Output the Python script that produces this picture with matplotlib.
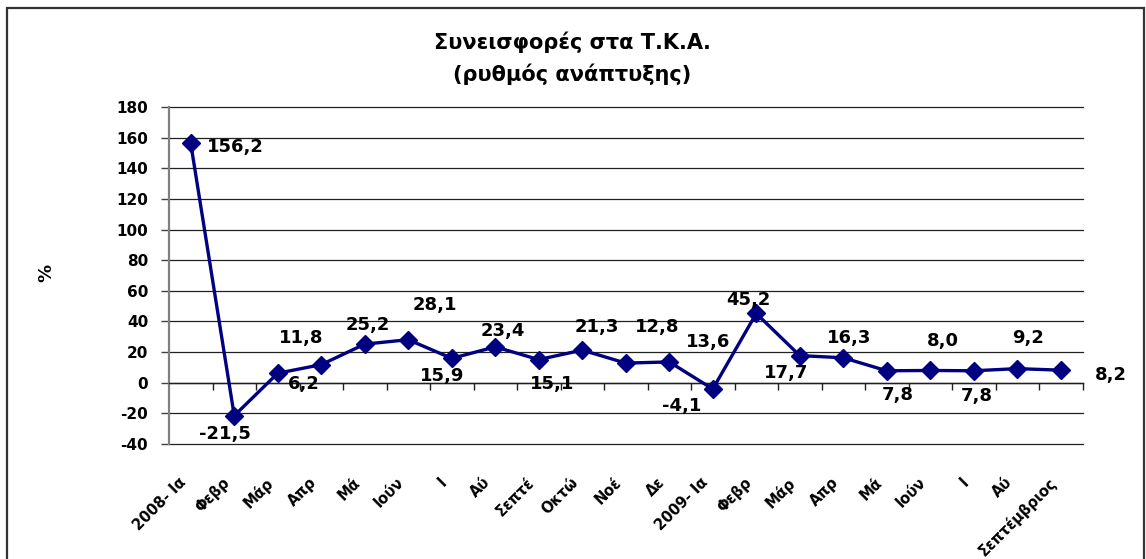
import matplotlib
matplotlib.use("Agg")
import matplotlib.pyplot as plt
import matplotlib.transforms as mtransforms
from matplotlib.patches import Rectangle

# ---- data ----
categories = ["2008- Ια", "Φεβρ", "Μάρ", "Απρ", "Μά", "Ιούν", "Ι", "Αύ",
              "Σεπτέ", "Οκτώ", "Νοέ", "Δε", "2009- Ια", "Φεβρ", "Μάρ",
              "Απρ", "Μά", "Ιούν", "Ι", "Αύ", "Σεπτέμβριος"]
growth = [156.2, -21.5, 6.2, 11.8, 25.2, 28.1, 15.9, 23.4, 15.1, 21.3,
          12.8, 13.6, -4.1, 45.2, 17.7, 16.3, 7.8, 8.0, 7.8, 9.2, 8.2]
y_ticks = [-40, -20, 0, 20, 40, 60, 80, 100, 120, 140, 160, 180]
title_text = "Συνεισφορές στα Τ.Κ.Α.\n(ρυθμός ανάπτυξης)"
y_label = "%"

# ---- layout of the data labels (offset in categories, offset in %) ----
label_dx = [1.03, -0.22, 0.6, -0.46, 0.06, 0.62, -0.22, 0.17, 0.31, 0.34,
            0.72, 0.89, -0.72, -0.17, -0.32, 0.14, 0.26, 0.28, 0.06, 0.24, 1.15]
label_dy = [-2.6, -12.0, -7.3, 17.5, 12.4, 22.6, -11.6, 10.3, -16.2, 15.2,
            23.7, 13.3, -11.2, 9.0, -11.1, 12.7, -15.9, 19.3, -16.5, 19.8, -3.4]

W, H, DPI = 1146, 559, 100
fig = plt.figure(figsize=(W / DPI, H / DPI), dpi=DPI)
fig.patch.set_facecolor("white")
plt.rcParams['font.family'] = ['DejaVu Sans']

# outer chart border
fig.patches.append(Rectangle((7 / W, -0.01), (1144 - 7) / W, 1 - 8 / H + 0.01,
                             transform=fig.transFigure, fill=False,
                             edgecolor="#333333", linewidth=1.6))

left, right, top, bottom = 169, 1082.5, 107, 444
ax = fig.add_axes([left / W, 1 - bottom / H, (right - left) / W, (bottom - top) / H])

x = list(range(len(growth)))
navy = "#000080"
ax.plot(x, growth, color=navy, linewidth=2.4, marker="D", markersize=9,
        markerfacecolor=navy, markeredgecolor=navy, zorder=5, clip_on=False)

ax.set_xlim(-0.5, len(growth) - 0.5)
ax.set_ylim(-40, 180)
ax.set_yticks(y_ticks)
ax.set_yticklabels([str(t) for t in y_ticks], fontsize=11, fontweight="bold")
ax.yaxis.grid(True, color="#202020", linewidth=0.9)
for gl in ax.get_ygridlines():
    gl.set_clip_on(False)
ax.set_axisbelow(True)
ax.tick_params(axis="y", length=6, width=1, color="#404040", pad=9)

for s in ["top", "right"]:
    ax.spines[s].set_visible(False)
ax.spines["left"].set_color("#808080")
ax.spines["left"].set_linewidth(1.6)
ax.spines["bottom"].set_position(("data", 0))
ax.spines["bottom"].set_color("#202020")
ax.spines["bottom"].set_linewidth(1.0)

ax.set_xticks(x)
ax.set_xticklabels([])
ax.tick_params(axis="x", which="major", length=0)
ax.set_xticks([i + 0.5 for i in x], minor=True)
ax.tick_params(axis="x", which="minor", length=5, width=1, color="#202020",
               direction="out")

# category labels below the plot area
trans = mtransforms.blended_transform_factory(ax.transData, ax.transAxes) + \
    mtransforms.ScaledTranslation(-7 / DPI, -36 / DPI, fig.dpi_scale_trans)
for i, c in enumerate(categories):
    ax.text(i, 0, c, transform=trans, rotation=45, rotation_mode="anchor",
            ha="right", va="center", fontsize=10.5, fontweight="bold")

# data labels
for i, v in enumerate(growth):
    ax.text(i + label_dx[i], v + label_dy[i], f"{v:.1f}".replace(".", ","),
            ha="center", va="center", fontsize=13, fontweight="bold",
            color="black", zorder=6, clip_on=False)

fig.text(572 / W, 1 - 58 / H, title_text, ha="center", va="center",
         fontsize=15, fontweight="bold", linespacing=1.6)
fig.text(46 / W, 1 - 273 / H, y_label, rotation=90, ha="center", va="center",
         fontsize=13, fontweight="bold")

fig.savefig("out.png", dpi=DPI, facecolor="white")
